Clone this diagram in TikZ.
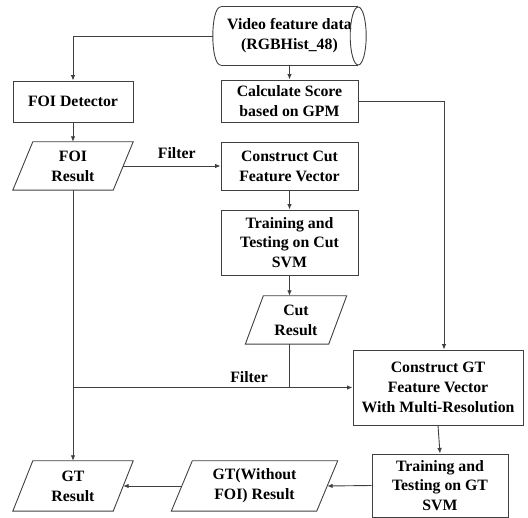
\documentclass[tikz,border=0pt]{standalone}
\usepackage{fontspec}
\setmainfont{Liberation Serif}
\usetikzlibrary{arrows.meta}
\definecolor{linec}{HTML}{404040}
\tikzset{
  base/.style={font=\fontsize{15.8}{19.8}\selectfont\bfseries, align=center, inner sep=0pt, text=black},
  box/.style={base, draw=linec, line width=0.9pt, rectangle},
  para/.style={base, rectangle, draw=none},
  ln/.style={draw=linec, line width=0.9pt},
  arr/.style={ln, -{Latex[length=5.5pt,width=4.5pt]}},
  lbl/.style={font=\fontsize{15.8}{19.8}\selectfont\bfseries, inner sep=0pt}
}
\newcommand{\parashape}[2]{% node name, half slant
  \draw[ln] ([xshift=#2pt]#1.north west) -- ([xshift=#2pt]#1.north east)
    -- ([xshift=-#2pt]#1.south east) -- ([xshift=-#2pt]#1.south west) -- cycle;}
\begin{document}
\begin{tikzpicture}[x=1pt,y=-1pt]
\useasboundingbox (0,0) rectangle (528,518);
% nodes
\node[para, minimum width=153pt, minimum height=58pt] (video) at (289.5,36) {Video feature data\\(RGBHist\_48)};
\node[box, minimum width=120pt, minimum height=41pt] (foidet) at (73,101.5) {FOI Detector};
\node[box, minimum width=137pt, minimum height=42pt] (calc) at (289.5,101) {Calculate Score\\based on GPM};
\node[para, minimum width=100pt, minimum height=48pt] (foires) at (73,166) {FOI\\Result};
\node[box, minimum width=137pt, minimum height=48pt] (cutfv) at (289.5,166) {Construct Cut\\Feature Vector};
\node[box, minimum width=137pt, minimum height=65pt] (cuttrain) at (289.5,242.5) {Training and\\Testing on Cut\\SVM};
\node[para, minimum width=83pt, minimum height=48pt] (cutres) at (296,320) {Cut\\Result};
\node[box, minimum width=170pt, minimum height=75pt] (gtfv) at (438,387.5) {Construct GT\\Feature Vector\\With Multi-Resolution};
\node[box, minimum width=136pt, minimum height=63pt] (gttrain) at (440,485.5) {Training and\\Testing on GT\\SVM};
\node[para, minimum width=145pt, minimum height=50pt] (gtwo) at (254.5,486) {GT(Without\\FOI) Result};
\node[para, minimum width=100pt, minimum height=50pt] (gtres) at (73,486) {GT\\Result};
% cylinder outline
\draw[ln] ([xshift=8pt]video.north west) -- ([xshift=-8pt]video.north east);
\draw[ln] ([xshift=8pt]video.south west) -- ([xshift=-8pt]video.south east);
\draw[ln] ([xshift=8pt]video.north west) .. controls ([xshift=-2.67pt]video.north west) and ([xshift=-2.67pt]video.south west) .. ([xshift=8pt]video.south west);
\draw[ln] ([xshift=-8pt]video.east) ellipse [x radius=8pt, y radius=29pt];
% parallelograms
\parashape{foires}{10}
\parashape{cutres}{9}
\parashape{gtwo}{10.5}
\parashape{gtres}{10}
% connectors
\draw[arr] (video.west) -| (foidet.north);
\draw[arr] (video.south) -- (calc.north);
\draw[arr] (foidet.south) -- (foires.north);
\draw[arr] (foires.east) -- node[lbl, above=7pt, pos=0.55] (f1) {Filter} (cutfv.west);
\draw[arr] (calc.east) -| ([xshift=6pt]gtfv.north);
\draw[arr] (cutfv.south) -- (cuttrain.north);
\draw[arr] (cuttrain.south) -- (cuttrain.south |- cutres.north);
\draw[arr] (foires.south) -- (gtres.north);
\draw[arr] (foires.south |- gtfv.west) -- node[lbl, above=4pt, pos=0.63] (f2) {Filter} (gtfv.west);
\draw[ln] (cuttrain.south |- cutres.south) -- (cuttrain.south |- gtfv.west);
\draw[arr] (gtfv.south) -- (gttrain.north);
\draw[arr] (gttrain.west) -- (gtwo.east);
\draw[arr] (gtwo.west) -- (gtres.east);
\end{tikzpicture}
\end{document}
